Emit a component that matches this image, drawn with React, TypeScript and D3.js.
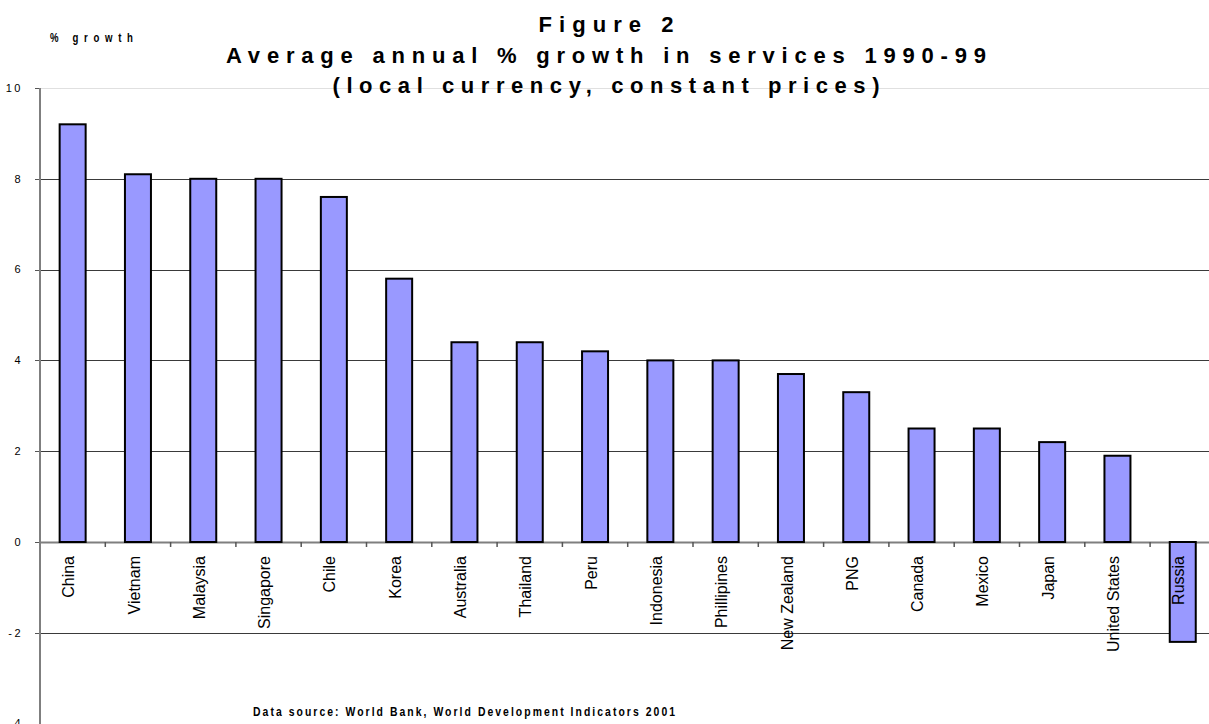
import React from "react";
import * as d3 from "d3";

const categories = ["China","Vietnam","Malaysia","Singapore","Chile","Korea","Australia","Thailand","Peru","Indonesia","Phillipines","New Zealand","PNG","Canada","Mexico","Japan","United States","Russia"];
const values = [9.2,8.1,8.0,8.0,7.6,5.8,4.4,4.4,4.2,4.0,4.0,3.7,3.3,2.5,2.5,2.2,1.9,-2.2];
const yTicks = [-4,-2,0,2,4,6,8,10];
const titleLines = ["Figure 2","Average annual % growth in services 1990-99","(local currency, constant prices)"];
const yAxisTitle = "% growth";
const sourceNote = "Data source: World Bank, World Development Indicators 2001";

const W = 1209, H = 724;
const FONT = "'Liberation Sans', Arial, sans-serif";

export default function App() {
  const x0 = 40;
  const y = d3.scaleLinear().domain([-4, 10]).range([723.6, 88]);
  const x = d3.scaleBand().domain(categories).range([x0, x0 + 65.3 * categories.length]).paddingInner(0).paddingOuter(0);
  const bw = 26;
  const fmt = (v: number) => String(v);
  const titleLens = [135, 760, 547];
  const sx = 0.8;
  return (
    <svg width={W} height={H} style={{ position: "absolute", left: 0, top: 0, background: "#fff" }} fontFamily={FONT}>
      {/* gridlines */}
      {yTicks.map((t) => (
        <line key={"g" + t} x1={x0} x2={W} y1={Math.round(y(t)) + 0.5} y2={Math.round(y(t)) + 0.5}
          stroke={t === 10 || t === -4 ? "#e0e0e0" : t === 0 ? "#7f7f7f" : "#3a3a3a"} strokeWidth={t === 0 ? 2 : 1} />
      ))}
      {/* y ticks */}
      {yTicks.map((t) => (
        <g key={"t" + t}>
          <line x1={x0 - 5} x2={x0} y1={Math.round(y(t)) + 0.5} y2={Math.round(y(t)) + 0.5} stroke="#555" strokeWidth={1} />
          <text x={23} y={y(t)} dy="0.35em" textAnchor="end" fontSize={11} letterSpacing={2.5} fill="#000">{fmt(t)}</text>
        </g>
      ))}
      {/* bars */}
      {categories.map((c, i) => {
        const v = values[i];
        const cx = (x(c) as number) + x.bandwidth() / 2;
        const top = y(Math.max(0, v));
        const bot = y(Math.min(0, v));
        return (
          <rect key={c} x={cx - bw / 2} y={top} width={bw} height={bot - top} fill="#9999FF" stroke="#000" strokeWidth={2} />
        );
      })}
      {/* y axis */}
      <line x1={x0} x2={x0} y1={88} y2={H} stroke="#7f7f7f" strokeWidth={2} />
      {/* category ticks */}
      {categories.map((c) => (
        <line key={"ct" + c} x1={(x(c) as number) + x.bandwidth()} x2={(x(c) as number) + x.bandwidth()} y1={y(0)} y2={y(0) + 5} stroke="#555" strokeWidth={1.5} />
      ))}
      {/* category labels */}
      {categories.map((c) => {
        const cx = (x(c) as number) + x.bandwidth() / 2 - 4;
        return (
          <text key={"l" + c} transform={`translate(${cx},${y(0) + 14}) rotate(-90)`} dy="0.35em" textAnchor="end" fontSize={16} fill="#000">{c}</text>
        );
      })}
      {/* titles */}
      {titleLines.map((t, i) => (
        <text key={t} x={606} y={32 + i * 30.5} textAnchor="middle" fontSize={22} fontWeight="bold"
          textLength={titleLens[i]} lengthAdjust="spacing" fill="#000">{t}</text>
      ))}
      <text transform={`translate(50,42) scale(${sx},1)`} fontSize={12} fontWeight="bold" textLength={83 / sx} lengthAdjust="spacing" fill="#000">{yAxisTitle}</text>
      <text transform={`translate(464,716) scale(${sx},1)`} textAnchor="middle" fontSize={13} fontWeight="bold" textLength={422 / sx} lengthAdjust="spacing" fill="#000">{sourceNote}</text>
    </svg>
  );
}
